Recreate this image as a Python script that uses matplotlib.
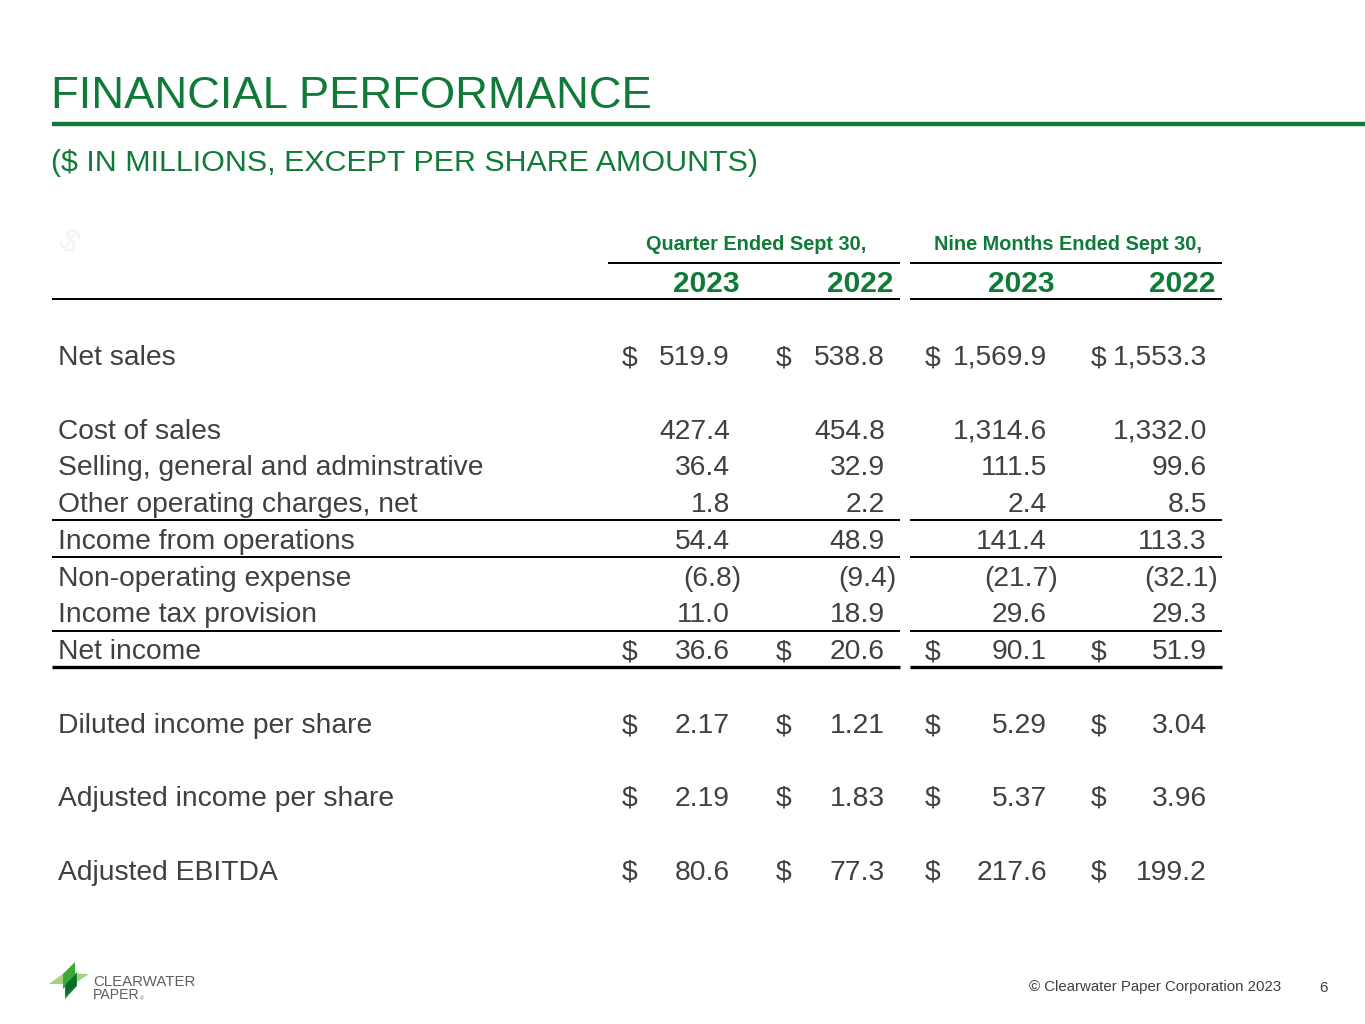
import matplotlib
matplotlib.use("Agg")
import matplotlib.pyplot as plt
from matplotlib.patches import Polygon

plt.rcParams["font.family"] = ["Liberation Sans", "DejaVu Sans"]

# ── table data ───────────────────────────────────────────────────────────────
row_labels = [
    "Net sales",
    "Cost of sales",
    "Selling, general and adminstrative",
    "Other operating charges, net",
    "Income from operations",
    "Non-operating expense",
    "Income tax provision",
    "Net income",
    "Diluted income per share",
    "Adjusted income per share",
    "Adjusted EBITDA",
]
q_2023 = [519.9, 427.4, 36.4, 1.8, 54.4, -6.8, 11.0, 36.6, 2.17, 2.19, 80.6]
q_2022 = [538.8, 454.8, 32.9, 2.2, 48.9, -9.4, 18.9, 20.6, 1.21, 1.83, 77.3]
n_2023 = [1569.9, 1314.6, 111.5, 2.4, 141.4, -21.7, 29.6, 90.1, 5.29, 5.37, 217.6]
n_2022 = [1553.3, 1332.0, 99.6, 8.5, 113.3, -32.1, 29.3, 51.9, 3.04, 3.96, 199.2]
show_dollar = [True, False, False, False, False, False, False, True, True, True, True]
decimals = [1, 1, 1, 1, 1, 1, 1, 1, 2, 2, 1]

group_titles = ["Quarter Ended Sept 30,", "Nine Months Ended Sept 30,"]
year_labels = ["2023", "2022", "2023", "2022"]

GREEN = "#107a38"
GREY = "#404040"
BODY_FS = 20.3

# layout (pixel coordinates)
row_y = [358, 432, 468, 505, 542, 579, 615, 652, 726, 799, 873]
val_right = [730, 885, 1047, 1207]
dollar_x = [622, 776, 925, 1091]
year_right = [740, 893, 1055, 1216]
group_spans = [(608, 900), (910, 1222)]


def fmt(v, d):
    s = f"{abs(v):,.{d}f}"
    return f"({s})" if v < 0 else s


fig = plt.figure(figsize=(13.65, 10.24), dpi=100)
ax = fig.add_axes([0, 0, 1, 1])
ax.set_xlim(0, 1365)
ax.set_ylim(1024, 0)
ax.axis("off")

# title block
ax.text(51, 96, "FINANCIAL PERFORMANCE", fontsize=32.7, color=GREEN,
        va="center", ha="left")
ax.plot([52, 1365], [124, 124], color=GREEN, lw=3.2, solid_capstyle="butt")
ax.text(51, 163, "($ IN MILLIONS, EXCEPT PER SHARE AMOUNTS)", fontsize=21.9,
        color=GREEN, va="center", ha="left")

# faint watermark glyph
ax.text(68, 242, "$", fontsize=22, color="#f3f3f3", va="center", ha="center",
        rotation=-30)

# column headers
for (x0, x1), title in zip(group_spans, group_titles):
    ax.text((x0 + x1) / 2 + 2, 245, title, fontsize=14.3, fontweight="bold",
            color=GREEN, va="center", ha="center")
    ax.plot([x0, x1], [263, 263], color="black", lw=1.4, solid_capstyle="butt")
for xr, yl in zip(year_right, year_labels):
    ax.text(xr, 284, yl, fontsize=21.5, fontweight="bold", color=GREEN,
            va="center", ha="right")
ax.plot([52, 900], [299, 299], color="black", lw=1.4, solid_capstyle="butt")
ax.plot([910, 1222], [299, 299], color="black", lw=1.4, solid_capstyle="butt")

# body rows
cols = [q_2023, q_2022, n_2023, n_2022]
for i, label in enumerate(row_labels):
    y = row_y[i]
    ax.text(58, y, label, fontsize=BODY_FS, color=GREY, va="center", ha="left")
    for c, series in enumerate(cols):
        v = series[i]
        s = fmt(v, decimals[i])
        xr = val_right[c] + (11 if v < 0 else 0)
        ax.text(xr, y, s, fontsize=BODY_FS, color=GREY, va="center", ha="right")
        if show_dollar[i]:
            ax.text(dollar_x[c], y, "$", fontsize=BODY_FS, color=GREY,
                    va="center", ha="left")

# separator rules
rules = [(520, 1.4), (557, 1.4), (631, 1.4), (667, 2.4)]
for yy, w in rules:
    ax.plot([52, 900], [yy, yy], color="black", lw=w, solid_capstyle="butt")
    ax.plot([910, 1222], [yy, yy], color="black", lw=w, solid_capstyle="butt")

# logo
logo_parts = [
    ([(49, 984), (64, 973), (89, 974), (74, 984)], "#a3d37f"),
    ([(75, 962), (75, 978), (63, 989), (63, 974)], "#3aa935"),
    ([(77, 972), (77, 986), (65, 999), (65, 985)], "#1f8a3b"),
    ([(66, 984), (76, 975), (76, 986), (66, 995)], "#0d6b2f"),
]
for pts, col in logo_parts:
    ax.add_patch(Polygon(pts, closed=True, facecolor=col, edgecolor="none"))
ax.text(93, 982, "CLEARWATER", fontsize=10.8, color="#606060", va="center",
        ha="left")
ax.text(93, 995, "PAPER", fontsize=10.2, color="#606060", va="center", ha="left")
ax.text(140, 999, "®", fontsize=3.5, color="#606060", va="center", ha="left")

# footer
ax.text(1281, 987, "\u00a9 Clearwater Paper Corporation 2023", fontsize=10.8,
        color="#404040", va="center", ha="right")
ax.text(1323, 988, "6", fontsize=10.8, color="#404040", va="center",
        ha="center")

fig.savefig("out.png", dpi=100)
